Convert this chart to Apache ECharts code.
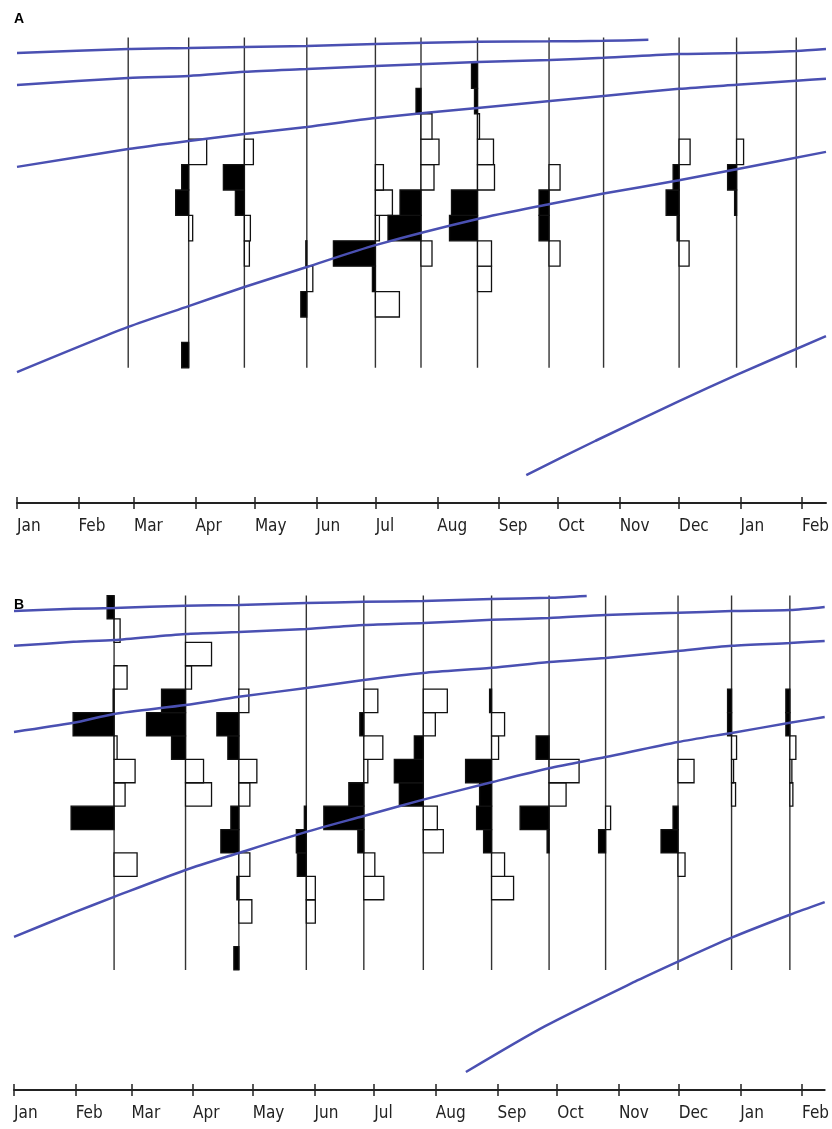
<!DOCTYPE html>
<html>
<head>
<meta charset="utf-8">
<script src="https://cdn.jsdelivr.net/npm/echarts@6/dist/echarts.min.js"></script>
<style>
html,body{margin:0;padding:0;background:#fff;}
#chart{width:832px;height:1129px;}
</style>
</head>
<body>
<div id="chart"></div>
<script>
// ---------- axis ticks (day of year from 1 Jan) ----------
const MONTH_STARTS = [0,31,59,90,120,151,181,212,243,273,304,334,365,396];
const MONTH_NAMES = ['Jan','Feb','Mar','Apr','May','Jun','Jul','Aug','Sep','Oct','Nov','Dec','Jan','Feb'];

// ---------- Panel A ----------
const A_DATES = [56.1, 86.6, 114.7, 146.2, 180.8, 203.8, 232.3, 268.4, 295.9, 334.0, 363.0, 393.1];
// frequencies per length class (class 0 = smallest), left side (black)
const A_BLACK = [
  [0,0,0,0,0,0,0,0,0,0,0,0,0],
  [7,0,0,0,0,0,13,7,0,0,0,0,0],
  [0,0,0,0,0,0,9,21,0,0,0,0,0],
  [0,0,6,0,1,0,0,0,0,0,0,0,0],
  [0,0,0,3,42,0,0,0,0,0,0,0,0],
  [0,0,0,0,0,33,21,0,0,0,5,0,0],
  [0,0,0,0,0,28,26,0,0,0,3,6,0],
  [0,0,0,0,0,10,10,0,0,0,0,0,0],
  [0,0,0,0,0,0,0,0,0,0,0,0,0],
  [0,0,0,0,0,2,13,6,0,0,0,0,0],
  [0,0,0,0,0,0,2,9,0,0,0,0,0],
  [0,0,0,0,0,0,0,0,0,0,0,0,0]
];
// right side (white)
const A_WHITE = [
  [0,0,0,0,0,0,0,0,0,0,0,0,0],
  [0,0,0,0,0,4,0,0,18,0,0,0,0],
  [0,0,0,0,5,6,0,0,9,0,0,0,0],
  [0,0,0,6,0,0,0,0,0,0,0,0,0],
  [0,0,24,0,0,4,17,8,0,0,0,0,0],
  [0,0,0,0,11,0,0,13,18,11,0,0,0],
  [0,0,0,14,14,0,0,17,16,2,0,0,0],
  [0,0,0,0,11,0,0,11,0,0,0,0,0],
  [0,0,0,0,0,0,0,0,0,0,0,0,0],
  [0,0,0,0,10,0,0,0,11,0,0,0,0],
  [0,0,0,0,0,0,0,0,7,0,0,0,0],
  [0,0,0,0,0,0,0,0,0,0,0,0,0]
];
// growth curves [day, length class]
const A_CURVE1 = [[0,12.39],[56.1,12.55],[86.6,12.59],[114.7,12.63],[146.2,12.67],[180.8,12.75],[232.3,12.83],[268.9,12.85],[295.9,12.87],[318.5,12.91]];
const A_CURVE2 = [[0,11.13],[56.1,11.41],[86.6,11.49],[114.7,11.65],[146.2,11.76],[180.8,11.88],[232.3,12.04],[268.9,12.12],[295.9,12.20],[334,12.35],[363,12.39],[393.1,12.47],[408.1,12.55]];
const A_CURVE3 = [[0,7.91],[56.1,8.61],[86.6,8.93],[114.7,9.20],[146.2,9.48],[180.8,9.83],[232.3,10.23],[268.9,10.50],[295.9,10.70],[334,10.98],[363,11.14],[393.1,11.30],[408.1,11.38]];
const A_CURVE4 = [[0,-0.17],[56.1,1.61],[86.6,2.43],[114.7,3.18],[146.2,3.97],[180.8,4.83],[232.3,5.86],[268.9,6.45],[295.9,6.86],[334,7.38],[363,7.82],[408.1,8.50]];
const A_CURVE5 = [[256.9,-4.22],[291.9,-2.87],[334,-1.31],[363,-0.28],[408.1,1.25]];

// ---------- Panel B ----------
const B_DATES = [50.3, 86.2, 113.0, 146.9, 175.8, 205.7, 240.0, 268.9, 297.3, 333.7, 360.6, 389.9];
const B_BLACK = [
  [0,0,0,0,0,0,43,0,0,0,41,1,0,0,0,7],
  [0,0,0,0,0,0,0,0,0,14,39,24,0,0,0,0],
  [5,0,0,2,0,18,8,0,0,11,22,0,0,0,0,0],
  [0,0,0,0,9,10,2,0,0,0,0,0,0,0,0,0],
  [0,0,0,0,0,6,40,15,0,0,4,0,0,0,0,0],
  [0,0,0,0,0,0,0,24,29,9,0,0,0,0,0,0],
  [0,0,0,0,0,8,15,12,26,0,0,2,0,0,0,0],
  [0,0,0,0,0,2,29,0,0,13,0,0,0,0,0,0],
  [0,0,0,0,0,7,0,0,0,0,0,0,0,0,0,0],
  [0,0,0,0,0,17,5,0,0,0,0,0,0,0,0,0],
  [0,0,0,0,0,0,0,0,0,0,4,4,0,0,0,0],
  [0,0,0,0,0,0,0,0,0,0,4,4,0,0,0,0]
];
const B_WHITE = [
  [0,0,0,0,23,0,0,11,21,3,0,0,13,0,6,0],
  [0,0,0,0,0,0,0,26,18,0,0,0,6,26,0,0],
  [0,0,13,0,11,0,0,11,18,0,0,10,0,0,0,0],
  [0,0,9,9,0,0,0,0,0,0,0,0,0,0,0,0],
  [0,0,0,20,11,0,0,0,4,19,0,14,0,0,0,0],
  [0,0,0,0,0,20,14,0,0,0,12,24,0,0,0,0],
  [0,0,0,22,13,0,0,0,0,7,13,0,0,0,0,0],
  [0,0,0,0,0,0,0,17,30,0,0,0,0,0,0,0],
  [0,0,0,0,0,0,5,0,0,0,0,0,0,0,0,0],
  [0,0,0,0,7,0,0,0,16,0,0,0,0,0,0,0],
  [0,0,0,0,0,0,0,4,2,5,0,0,0,0,0,0],
  [0,0,0,0,0,0,0,3,2,6,0,0,0,0,0,0]
];
const B_CURVE1 = [[0,15.34],[29.9,15.43],[50.3,15.47],[86.2,15.56],[113,15.60],[146.9,15.68],[175.8,15.73],[205.7,15.77],[240,15.85],[268.9,15.90],[287.8,15.98]];
const B_CURVE2 = [[0,13.85],[29.9,14.02],[50.3,14.10],[86.2,14.36],[113,14.44],[146.9,14.57],[175.8,14.74],[205.7,14.83],[240,14.96],[268.9,15.04],[297.3,15.17],[333.7,15.26],[360.6,15.34],[389.9,15.38],[407.4,15.51]];
const B_CURVE3 = [[0,10.17],[29.9,10.56],[50.3,10.94],[86.2,11.32],[113,11.67],[146.9,12.05],[175.8,12.39],[205.7,12.69],[240,12.91],[268.9,13.16],[297.3,13.33],[333.7,13.63],[360.6,13.85],[389.9,13.97],[407.4,14.06]];
const B_CURVE4 = [[0,1.41],[29.9,2.45],[50.3,3.12],[86.2,4.27],[113,5.0],[146.9,5.90],[175.8,6.58],[205.7,7.28],[240,8.02],[268.9,8.62],[297.3,9.10],[333.7,9.74],[360.6,10.13],[389.9,10.56],[407.4,10.81]];
const B_CURVE5 = [[227.1,-4.36],[266.9,-2.40],[313.2,-0.45],[333.7,0.36],[360.6,1.38],[389.9,2.36],[407.4,2.90]];

const A_NCLASS = 13, B_NCLASS = 16;
const PX_PER_UNIT = 1;   // horizontal pixels per frequency unit
const BLUE = '#4A50B2';
const FONT = "'Liberation Sans Narrow','Arial Narrow','DejaVu Sans Condensed',sans-serif";

function buildBars(dates, table){
  const out = [];
  table.forEach((row, i) => row.forEach((f, b) => { if (f > 0) out.push([dates[i], b, f]); }));
  return out;
}
function barRender(side){
  return function(params, api){
    const d = api.value(0), b = api.value(1), f = api.value(2);
    const p0 = api.coord([d, b]);
    const p1 = api.coord([d, b + 1]);
    const w = f * PX_PER_UNIT;
    const x = side < 0 ? p0[0] - w : p0[0];
    return {type:'rect', shape:{x:x, y:p1[1], width:w, height:p0[1]-p1[1]},
      style:{fill: side < 0 ? '#000' : '#fff', stroke:'#111', lineWidth:1.3}};
  };
}
function lineRender(ncls){
  return function(params, api){
    const d = api.value(0);
    const a = api.coord([d, 0]), b = api.coord([d, ncls]);
    return {type:'line', shape:{x1:a[0], y1:a[1], x2:b[0], y2:b[1]}, style:{stroke:'#333', lineWidth:1.4}};
  };
}
function xAxes(gridIndex, max){
  const fmt = v => { const i = MONTH_STARTS.indexOf(Math.round(v)); return i >= 0 ? MONTH_NAMES[i] : ''; };
  return [
    {type:'value', gridIndex, min:0, max, position:'bottom',
      axisLine:{show:true, onZero:false, lineStyle:{color:'#222', width:2}},
      axisTick:{show:true, customValues:MONTH_STARTS, length:6, inside:false, lineStyle:{color:'#222', width:1.5}},
      axisLabel:{show:true, customValues:MONTH_STARTS, formatter:fmt, align:'left', margin:15,
        fontFamily:FONT, fontSize:17, color:'#222'},
      splitLine:{show:false}},
    {type:'value', gridIndex, min:0, max, position:'bottom',
      axisLine:{show:false, onZero:false},
      axisTick:{show:true, customValues:MONTH_STARTS, length:6, inside:true, lineStyle:{color:'#222', width:1.5}},
      axisLabel:{show:false}, splitLine:{show:false}}
  ];
}
function curve(data, xi, yi){
  return {type:'line', xAxisIndex:xi, yAxisIndex:yi, data, smooth:0.25, showSymbol:false, silent:true,
    lineStyle:{color:BLUE, width:2.5}, z:5};
}

const chart = echarts.init(document.getElementById('chart'), null, {renderer:'canvas'});
chart.setOption({
  animation:false,
  backgroundColor:'#fff',
  title:[
    {text:'A', left:14, top:12, padding:0, textStyle:{fontFamily:'Liberation Sans, Arial, sans-serif', fontWeight:'bold', fontSize:14, color:'#000'}},
    {text:'B', left:14, top:598, padding:0, textStyle:{fontFamily:'Liberation Sans, Arial, sans-serif', fontWeight:'bold', fontSize:14, color:'#000'}}
  ],
  grid:[
    {left:17, width:815, top:35, height:468},
    {left:14, width:818, top:585, height:505}
  ],
  xAxis:[].concat(xAxes(0, 408.1), xAxes(1, 407.4)),
  yAxis:[
    {type:'value', gridIndex:0, min:-5.32, max:13.1, show:false},
    {type:'value', gridIndex:1, min:-5.13, max:16.45, show:false}
  ],
  series:[
    {type:'custom', xAxisIndex:0, yAxisIndex:0, data:A_DATES.map(d=>[d]), renderItem:lineRender(A_NCLASS), z:1, silent:true},
    {type:'custom', xAxisIndex:0, yAxisIndex:0, data:buildBars(A_DATES, A_WHITE), renderItem:barRender(1), z:2, silent:true},
    {type:'custom', xAxisIndex:0, yAxisIndex:0, data:buildBars(A_DATES, A_BLACK), renderItem:barRender(-1), z:3, silent:true},
    curve(A_CURVE1,0,0), curve(A_CURVE2,0,0), curve(A_CURVE3,0,0), curve(A_CURVE4,0,0), curve(A_CURVE5,0,0),
    {type:'custom', xAxisIndex:2, yAxisIndex:1, data:B_DATES.map(d=>[d]), renderItem:lineRender(B_NCLASS), z:1, silent:true},
    {type:'custom', xAxisIndex:2, yAxisIndex:1, data:buildBars(B_DATES, B_WHITE), renderItem:barRender(1), z:2, silent:true},
    {type:'custom', xAxisIndex:2, yAxisIndex:1, data:buildBars(B_DATES, B_BLACK), renderItem:barRender(-1), z:3, silent:true},
    curve(B_CURVE1,2,1), curve(B_CURVE2,2,1), curve(B_CURVE3,2,1), curve(B_CURVE4,2,1), curve(B_CURVE5,2,1)
  ]
});
</script>
</body>
</html>
